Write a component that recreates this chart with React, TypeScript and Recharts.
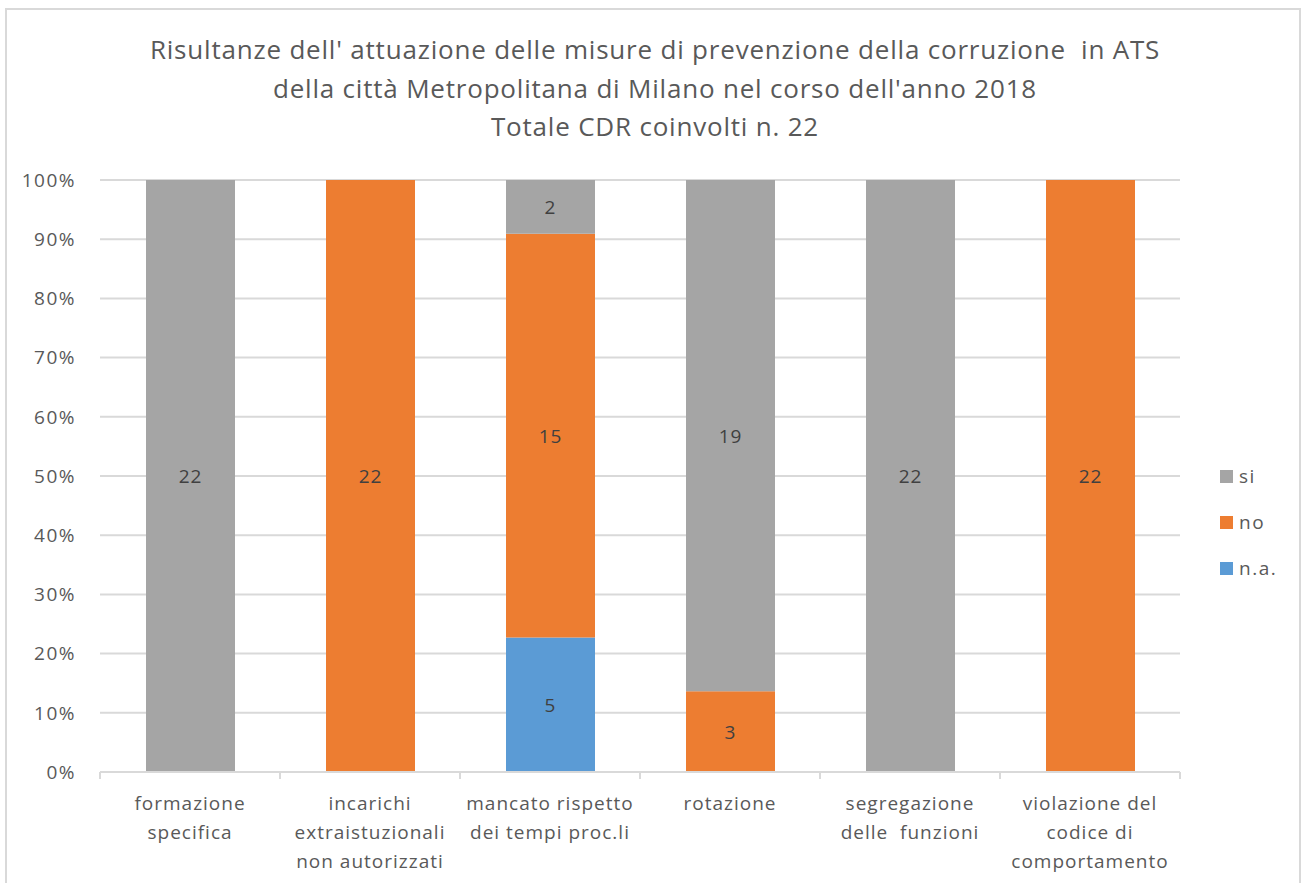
import React from 'react';
import { BarChart, Bar, XAxis, YAxis, CartesianGrid, LabelList } from 'recharts';

const categories = [
  'formazione specifica',
  'incarichi extraistuzionali non autorizzati',
  'mancato rispetto dei tempi proc.li',
  'rotazione',
  'segregazione delle  funzioni',
  'violazione del codice di comportamento',
];
// wrapped lines of each category label, as in the picture
const categoryLines = [
  ['formazione', 'specifica'],
  ['incarichi', 'extraistuzionali', 'non autorizzati'],
  ['mancato rispetto', 'dei tempi proc.li'],
  ['rotazione'],
  ['segregazione', 'delle  funzioni'],
  ['violazione del', 'codice di', 'comportamento'],
];
const siValues = [22, 0, 2, 19, 22, 0];
const noValues = [0, 22, 15, 3, 0, 22];
const naValues = [0, 0, 5, 0, 0, 0];
const yTicks = [0, 0.1, 0.2, 0.3, 0.4, 0.5, 0.6, 0.7, 0.8, 0.9, 1];

const titleLines = [
  "Risultanze dell' attuazione delle misure di prevenzione della corruzione  in ATS",
  "della città Metropolitana di Milano nel corso dell'anno 2018",
  'Totale CDR coinvolti n. 22',
];

const COLORS = { si: '#a5a5a5', no: '#ed7d31', na: '#5b9bd5' };
const FONT = '"Open Sans", Calibri, sans-serif';
const TEXT = '#595959';

const data = categories.map((name, i) => ({
  name,
  na: naValues[i],
  no: noValues[i],
  si: siValues[i],
}));

const legendItems = [
  { key: 'si', label: 'si', color: COLORS.si },
  { key: 'no', label: 'no', color: COLORS.no },
  { key: 'na', label: 'n.a.', color: COLORS.na },
];

const ValueLabel = (props: any) => {
  const { x, y, width, height, value } = props;
  if (!value) return null;
  return (
    <text
      x={x + width / 2}
      y={y + height / 2}
      textAnchor="middle"
      dominantBaseline="central"
      fill="#404040"
      fontSize={19}
      letterSpacing={1}
      fontFamily={FONT}
    >
      {value}
    </text>
  );
};

const BAND = 180;

const CategoryTick = (props: any) => {
  const { x, y, payload, index } = props;
  const lines: string[] = categoryLines[index] || [payload.value];
  const axisY = y - 8;
  return (
    <g>
      <line x1={x - BAND / 2} y1={axisY} x2={x - BAND / 2} y2={axisY + 7} stroke="#d9d9d9" strokeWidth={2} />
      {index === categories.length - 1 && (
        <line x1={x + BAND / 2} y1={axisY} x2={x + BAND / 2} y2={axisY + 7} stroke="#d9d9d9" strokeWidth={2} />
      )}
      {lines.map((l, i) => (
        <text
          key={i}
          x={x}
          y={axisY + 38 + i * 29}
          textAnchor="middle"
          fill={TEXT}
          fontSize={19}
          letterSpacing={1}
          fontFamily={FONT}
          style={{ whiteSpace: 'pre' }}
        >
          {l}
        </text>
      ))}
    </g>
  );
};

export default function App() {
  return (
    <div style={{ position: 'absolute', left: 0, top: 0, width: 1302, height: 883, background: '#fff', overflow: 'hidden' }}>
      <div
        style={{
          position: 'absolute',
          left: 5,
          top: 8,
          width: 1296,
          height: 890,
          border: '2px solid #d9d9d9',
          boxSizing: 'border-box',
        }}
      />
      <div style={{ position: 'absolute', left: 0, top: 30, width: 1310, textAlign: 'center', fontFamily: FONT, fontSize: 26, letterSpacing: 0.8, color: TEXT, lineHeight: '38.5px' }}>
        {titleLines.map((t, i) => (
          <div key={i} style={{ whiteSpace: 'pre' }}>{t}</div>
        ))}
      </div>
      <div style={{ position: 'absolute', left: 0, top: 0 }}>
        <BarChart
          width={1302}
          height={883}
          data={data}
          stackOffset="expand"
          barSize={89}
          margin={{ top: 180, right: 122, bottom: 0, left: 0 }}
        >
          <CartesianGrid vertical={false} stroke="#d9d9d9" strokeWidth={2} />
          <XAxis
            dataKey="name"
            axisLine={{ stroke: '#d9d9d9', strokeWidth: 2 }}
            tickLine={false}
            tick={<CategoryTick />}
            interval={0}
            height={111}
          />
          <YAxis
            width={100}
            domain={[0, 1]}
            ticks={yTicks}
            tickFormatter={(v: number) => `${Math.round(v * 100)}%`}
            axisLine={false}
            tickLine={false}
            tick={{ fill: TEXT, fontSize: 19, fontFamily: FONT, letterSpacing: 1.5 }}
            tickMargin={18}
          />
          <Bar dataKey="na" stackId="a" fill={COLORS.na} isAnimationActive={false}>
            <LabelList dataKey="na" content={<ValueLabel />} />
          </Bar>
          <Bar dataKey="no" stackId="a" fill={COLORS.no} isAnimationActive={false}>
            <LabelList dataKey="no" content={<ValueLabel />} />
          </Bar>
          <Bar dataKey="si" stackId="a" fill={COLORS.si} isAnimationActive={false}>
            <LabelList dataKey="si" content={<ValueLabel />} />
          </Bar>
        </BarChart>
      </div>
      <div style={{ position: 'absolute', left: 1220, top: 453, fontFamily: FONT, fontSize: 19, letterSpacing: 1.5, color: TEXT }}>
        {legendItems.map((it) => (
          <div key={it.key} style={{ display: 'flex', alignItems: 'center', height: 46 }}>
            <span style={{ display: 'inline-block', width: 13, height: 13, background: it.color, marginRight: 6 }} />
            <span>{it.label}</span>
          </div>
        ))}
      </div>
    </div>
  );
}
